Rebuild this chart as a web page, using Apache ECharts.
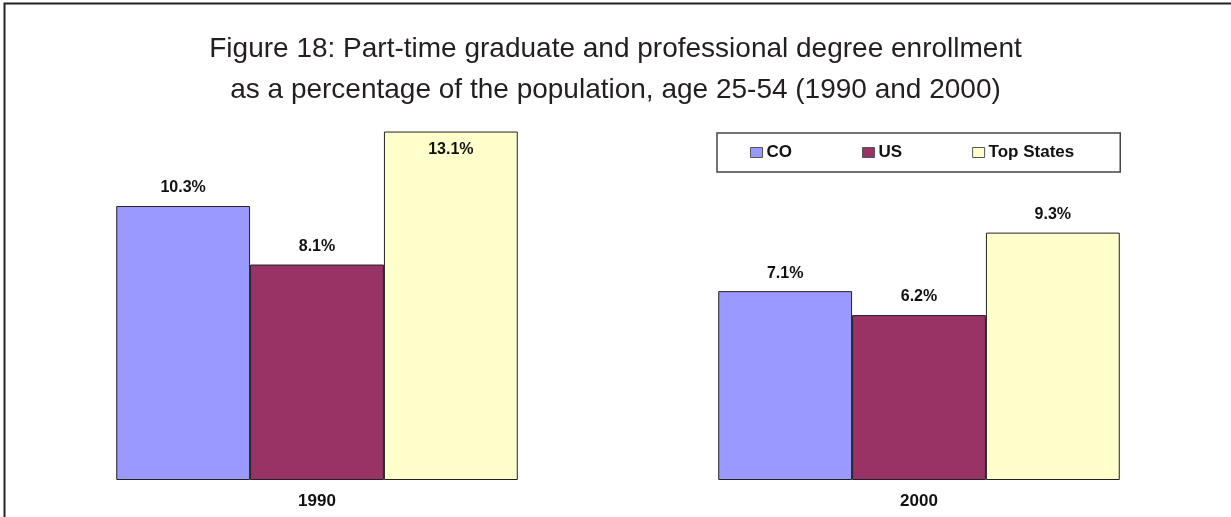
<!DOCTYPE html>
<html>
<head>
<meta charset="utf-8">
<script src="https://cdn.jsdelivr.net/npm/echarts@6/dist/echarts.min.js"></script>
<style>
  html, body { margin: 0; padding: 0; background: #fff; }
  #chart { width: 1231px; height: 517px; }
</style>
</head>
<body>
<div id="chart"></div>
<script>
// data
var years = ["1990", "2000"];
var coValues = [10.3, 7.1];
var usValues = [8.1, 6.2];
var topStatesValues = [13.1, 9.3];
var seriesNames = ["CO", "US", "Top States"];

var yMax = 14;

var myChart = echarts.init(document.getElementById("chart"));

// labels that would run into the title go inside the bar (like excel does)
function withLabels(values) {
  return values.map(function (v) {
    if (v > yMax - 1.5) {
      return { value: v, label: { position: "insideTop", distance: 10 } };
    }
    return v;
  });
}

function makeSeries(name, values, color) {
  return {
    name: name,
    type: "bar",
    barGap: 0,
    barCategoryGap: "33.3%",
    data: withLabels(values),
    itemStyle: {
      color: color,
      borderColor: "#222",
      borderWidth: 1
    },
    label: {
      show: true,
      position: "top",
      distance: 10,
      formatter: "{c}%",
      color: "#111",
      fontFamily: "Liberation Sans",
      fontWeight: "bold",
      fontSize: 16
    }
  };
}

var option = {
  backgroundColor: "#fff",
  animation: false,
  title: {
    text: "Figure 18: Part-time graduate and professional degree enrollment\nas a percentage of the population, age 25-54 (1990 and 2000)",
    left: "center",
    top: 29,
    padding: 0,
    textStyle: {
      fontFamily: "Liberation Sans",
      fontWeight: "normal",
      fontSize: 28,
      lineHeight: 41,
      color: "#231f20"
    }
  },
  legend: {
    data: seriesNames,
    left: 717,
    top: 133,
    orient: "horizontal",
    padding: [11, 46, 11, 33],
    itemGap: 70,
    itemWidth: 12,
    itemHeight: 10,
    backgroundColor: "#fff",
    borderColor: "#444",
    borderWidth: 1.5,
    borderRadius: 0,
    icon: "rect",
    itemStyle: { borderColor: "#555", borderWidth: 1 },
    textStyle: {
      fontFamily: "Liberation Sans",
      fontWeight: "bold",
      fontSize: 17,
      color: "#111",
      padding: [0, 0, 0, -1]
    }
  },
  graphic: [
    {
      // outer frame, only its top and left edges are in the picture
      type: "rect",
      left: 2,
      top: 1,
      shape: { width: 1260, height: 560 },
      style: { fill: null, stroke: "#222", lineWidth: 2 },
      silent: true
    }
  ],
  grid: {
    left: 16,
    width: 1204,
    top: 480 - yMax * 26.6,
    bottom: 37
  },
  xAxis: {
    type: "category",
    data: years,
    axisLine: { show: false },
    axisTick: { show: false },
    axisLabel: {
      margin: 13,
      fontFamily: "Liberation Sans",
      fontWeight: "bold",
      fontSize: 17,
      color: "#111"
    }
  },
  yAxis: {
    type: "value",
    min: 0,
    max: yMax,
    show: false,
    splitLine: { show: false }
  },
  series: [
    makeSeries(seriesNames[0], coValues, "#9999ff"),
    makeSeries(seriesNames[1], usValues, "#993366"),
    makeSeries(seriesNames[2], topStatesValues, "#ffffcc")
  ]
};

myChart.setOption(option);
</script>
</body>
</html>
